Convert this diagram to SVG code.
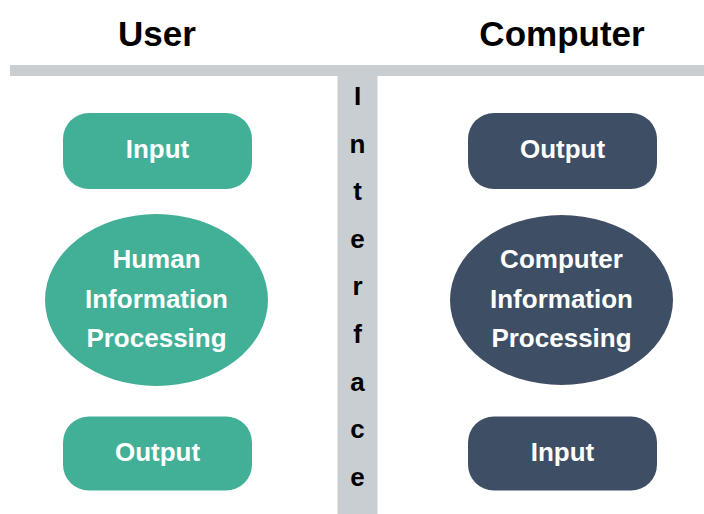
<svg xmlns="http://www.w3.org/2000/svg" width="704" height="514" viewBox="0 0 704 514">
  <style>
    text { font-family: "Liberation Sans", Arial, Helvetica, sans-serif; font-weight: bold; text-anchor: middle; }
    .title { font-size: 35px; fill: #000000; }
    .lbl { font-size: 26px; fill: #ffffff; }
    .iface { font-size: 26px; fill: #000000; }
    .bar { fill: #C9CED3; }
    .user { fill: #41B096; }
    .comp { fill: #3E4F65; }
  </style>
  <rect width="704" height="514" fill="#ffffff"/>

  <!-- column headings -->
  <g id="title-user"><text class="title" x="157" y="46">User</text></g>
  <g id="title-computer"><text class="title" x="562" y="46">Computer</text></g>

  <!-- interface divider: horizontal rule and vertical strip -->
  <g id="interface">
    <rect class="bar" x="10" y="65" width="694" height="11"/>
    <rect class="bar" x="337.5" y="75" width="40" height="439"/>
    <text class="iface" x="357.5" y="105">I</text>
    <text class="iface" x="357.5" y="152.6">n</text>
    <text class="iface" x="357.5" y="200.2">t</text>
    <text class="iface" x="357.5" y="247.8">e</text>
    <text class="iface" x="357.5" y="295.4">r</text>
    <text class="iface" x="357.5" y="343">f</text>
    <text class="iface" x="357.5" y="390.6">a</text>
    <text class="iface" x="357.5" y="438.2">c</text>
    <text class="iface" x="357.5" y="485.8">e</text>
  </g>

  <!-- user side -->
  <g id="user-input">
    <rect class="user" x="63" y="113" width="189" height="76" rx="26"/>
    <text class="lbl" x="157.5" y="158">Input</text>
  </g>
  <g id="user-processing">
    <ellipse class="user" cx="156.5" cy="300" rx="111.5" ry="86"/>
    <text class="lbl" x="156.5" y="268">Human</text>
    <text class="lbl" x="156.5" y="308">Information</text>
    <text class="lbl" x="156.5" y="347">Processing</text>
  </g>
  <g id="user-output">
    <rect class="user" x="63" y="416.5" width="189" height="74" rx="26"/>
    <text class="lbl" x="157.5" y="461">Output</text>
  </g>

  <!-- computer side -->
  <g id="computer-output">
    <rect class="comp" x="468" y="113" width="189" height="76" rx="26"/>
    <text class="lbl" x="562.5" y="158">Output</text>
  </g>
  <g id="computer-processing">
    <ellipse class="comp" cx="561.5" cy="300" rx="111.5" ry="85"/>
    <text class="lbl" x="561.5" y="268">Computer</text>
    <text class="lbl" x="561.5" y="308">Information</text>
    <text class="lbl" x="561.5" y="347">Processing</text>
  </g>
  <g id="computer-input">
    <rect class="comp" x="468" y="416.5" width="189" height="74" rx="26"/>
    <text class="lbl" x="562.5" y="461">Input</text>
  </g>

  <!-- no connectors are drawn between the nodes -->
  <g id="connectors"></g>
</svg>
